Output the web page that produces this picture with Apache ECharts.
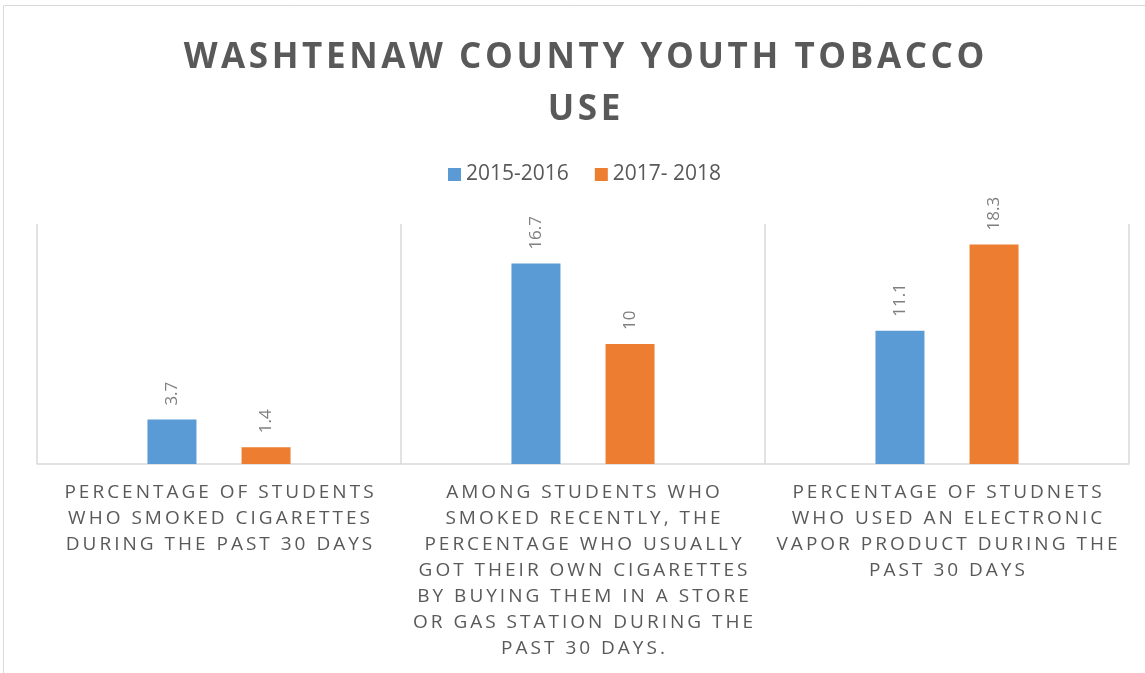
<!DOCTYPE html>
<html>
<head>
<meta charset="utf-8">
<script src="https://cdn.jsdelivr.net/npm/echarts@6/dist/echarts.min.js"></script>
<style>
  html, body { margin: 0; padding: 0; background: #fff; }
  #chart { width: 1145px; height: 673px; }
</style>
</head>
<body>
<div id="chart"></div>
<script>
const titleText = 'WASHTENAW COUNTY YOUTH TOBACCO\nUSE';
const categories = [
  'PERCENTAGE OF STUDENTS\nWHO SMOKED CIGARETTES\nDURING THE PAST 30 DAYS',
  'AMONG STUDENTS WHO\nSMOKED RECENTLY, THE\nPERCENTAGE WHO USUALLY\nGOT THEIR OWN CIGARETTES\nBY BUYING THEM IN A STORE\nOR GAS STATION DURING THE\nPAST 30 DAYS.',
  'PERCENTAGE OF STUDNETS\nWHO USED AN ELECTRONIC\nVAPOR PRODUCT DURING THE\nPAST 30 DAYS'
];
const seriesNames = ['2015-2016', '2017- 2018'];
const values2015 = [3.7, 16.7, 11.1];
const values2017 = [1.4, 10, 18.3];

// canvas has no letter-spacing, so every char goes in its own padded rich token
function spaced(str, style) {
  return str.split('\n').map(line =>
    line.split('').map(ch => '{' + style + '|' + ch + '}').join('')
  ).join('\n');
}

const grey = '#595959';
const font = '"Open Sans", sans-serif';

const chart = echarts.init(document.getElementById('chart'));
window.addEventListener('resize', () => chart.resize());

chart.setOption({
  animation: false,
  graphic: [{
    type: 'rect',
    shape: { x: 3.5, y: 5.5, width: 1200, height: 700 },
    style: { fill: 'none', stroke: '#d9d9d9', lineWidth: 1 },
    silent: true
  }],
  title: {
    text: spaced(titleText, 't'),
    left: 579,
    textAlign: 'center',
    top: 27,
    textStyle: {
      rich: {
        t: { fontSize: 35, fontWeight: 'bold', color: grey, fontFamily: font,
             lineHeight: 52, padding: [0, 1.8] }
      }
    }
  },
  legend: {
    top: 159,
    left: 443,
    itemWidth: 13,
    itemHeight: 13,
    itemGap: 26,
    icon: 'rect',
    textStyle: { fontSize: 21, color: grey, fontFamily: font }
  },
  grid: { left: 37, right: 16, top: 224, bottom: 209 },
  xAxis: {
    type: 'category',
    data: categories,
    axisLine: { lineStyle: { color: '#d9d9d9', width: 1.5 } },
    axisTick: { show: false },
    splitLine: { show: true, lineStyle: { color: '#d9d9d9', width: 1.5 } },
    axisLabel: {
      interval: 0,
      margin: 16,
      formatter: v => spaced(v, 'c'),
      rich: {
        c: { fontSize: 19, color: grey, fontFamily: font, lineHeight: 26, padding: [0, 1.5] }
      }
    }
  },
  yAxis: {
    type: 'value',
    min: 0,
    max: 20,
    show: false,
    splitLine: { show: false }
  },
  series: [
    { name: seriesNames[0], type: 'bar', data: values2015, barWidth: 49, barGap: '92%',
      itemStyle: { color: '#5b9bd5' } },
    { name: seriesNames[1], type: 'bar', data: values2017, barWidth: 49,
      itemStyle: { color: '#ed7d31' } }
  ].map(s => Object.assign(s, {
    label: {
      show: true, position: 'top', rotate: 90, distance: 14,
      align: 'left', verticalAlign: 'middle',
      fontSize: 17, color: '#7f7f7f', fontFamily: font
    }
  }))
});
</script>
</body>
</html>
